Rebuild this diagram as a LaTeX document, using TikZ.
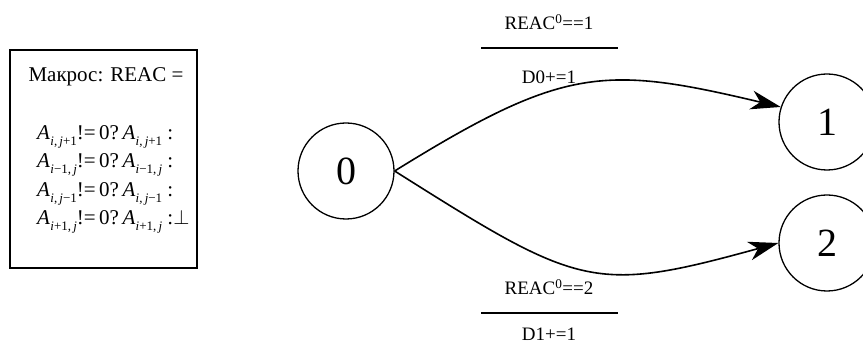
\documentclass[tikz,border=0pt]{standalone}
\usepackage{fontspec}
\setmainfont{Liberation Serif}
\usetikzlibrary{arrows.meta}
\newcommand{\Asub}[1]{\textit{A}\kern0.3pt\raisebox{-0.55ex}{\fontsize{13}{13}\selectfont #1}}
\newcommand{\ii}{\textit{i}}
\newcommand{\jj}{\textit{j}}
\begin{document}
\begin{tikzpicture}[x=1pt,y=-1pt,
  state/.style={draw,line width=1.3pt,circle,minimum size=96pt,inner sep=0pt,font=\fontsize{40}{40}\selectfont},
  lbl/.style={font=\fontsize{19}{19}\selectfont,inner sep=0pt,anchor=base},
  mline/.style={font=\fontsize{21}{21}\selectfont,inner sep=0pt,anchor=base west},
  conn/.style={line width=1.6pt,-{Stealth[length=30pt,width=19pt,inset=9pt]}},
  bar/.style={line width=2pt}]
\useasboundingbox (0,0) rectangle (863,347);
\draw[line width=1.3pt] (10,50) rectangle (197,268);
\node[font=\fontsize{21}{21}\selectfont,inner sep=0pt,anchor=base] (h) at (106,82) {Макрос: REAC =};
\node[mline] (l1) at (37,140) {\Asub{\ii,\,\jj+1}!=\,0?\,\Asub{\ii,\,\jj+1}\ :};
\node[mline] (l2) at (37,168) {\Asub{\ii−1,\,\jj}!=\,0?\,\Asub{\ii−1,\,\jj}\ :};
\node[mline] (l3) at (37,197) {\Asub{\ii,\,\jj−1}!=\,0?\,\Asub{\ii,\,\jj−1}\ :};
\node[mline] (l4) at (37,225) {\Asub{\ii+1,\,\jj}!=\,0?\,\Asub{\ii+1,\,\jj}\ :$\perp$};

\node[state] (n0) at (346,171) {0};
\node[state] (n1) at (827,122) {1};
\node[state] (n2) at (827,243) {2};

\draw[conn] (n0.east) .. controls (564,66) and (604,65) .. (n1.162);
\draw[conn] (n0.east) .. controls (580,288) and (593,294) .. (n2.west);

\node[lbl] (t1) at (549,30) {REAC\textsuperscript{0}==1};
\coordinate (a1) at (481,48);
\coordinate (b1) at (618,48);
\draw[bar] (a1) -- (b1);
\node[lbl] (t2) at (549,84) {D0+=1};

\node[lbl] (t3) at (549,295) {REAC\textsuperscript{0}==2};
\coordinate (a2) at (481,313);
\coordinate (b2) at (618,313);
\draw[bar] (a2) -- (b2);
\node[lbl] (t4) at (549,341) {D1+=1};
\end{tikzpicture}
\end{document}
